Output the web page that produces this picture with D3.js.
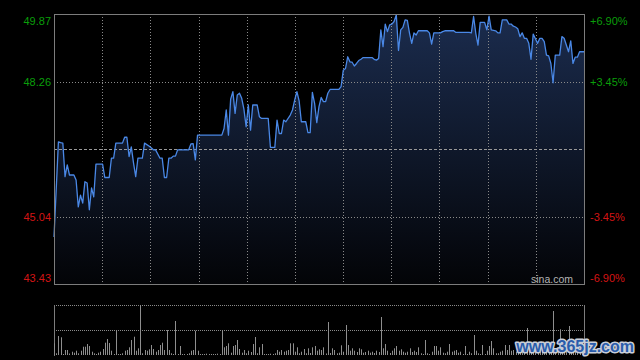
<!DOCTYPE html>
<html>
<head>
<meta charset="utf-8">
<script src="https://cdn.jsdelivr.net/npm/d3@7/dist/d3.min.js"></script>
<style>
  html, body { margin: 0; padding: 0; background: #000; }
  svg { display: block; }
  text { font-family: "Liberation Sans", Arial, sans-serif; }
</style>
</head>
<body>
<svg id="chart" width="640" height="360"></svg>
<script>
// ---- data ----
const prevClose = 46.65;
const priceTicks = [49.87, 48.26, 45.04, 43.43];
const pctTicks = ["+6.90%", "+3.45%", "-3.45%", "-6.90%"];
const totalMinutes = 240;

const minuteIdx = [0,2,3,4,5,6,7,9,10,11,12,13,14,15,16,17,18,19,22,23,25,26,27,28,31,32,33,34,35,36,37,38,40,41,43,44,45,46,48,49,50,51,52,53,54,55,56,61,62,63,64,65,76,77,78,79,80,81,82,83,84,85,86,87,88,89,90,92,93,94,97,98,100,101,102,103,104,105,107,108,109,110,111,112,114,115,116,117,118,119,120,121,122,123,124,125,127,129,130,131,132,133,134,135,136,137,138,139,140,144,145,146,147,148,149,150,151,152,153,154,155,156,157,158,159,160,161,162,163,164,165,169,170,171,172,175,176,177,181,182,188,189,190,191,192,193,195,196,197,198,200,201,202,203,205,206,207,208,209,210,211,212,213,214,215,216,217,218,219,220,221,222,223,224,225,226,227,229,230,231,232,233,234,235,236,237,238,240];
const price = [44.55,46.82,46.80,46.79,45.99,46.27,46.03,46.03,45.91,45.27,45.55,45.36,45.87,45.84,45.20,45.72,45.51,46.29,46.29,45.97,45.97,46.43,46.43,46.79,46.79,46.93,46.93,46.47,46.70,46.32,45.99,46.43,46.43,46.79,46.72,46.68,46.63,46.63,46.43,46.43,45.97,45.97,46.43,46.43,46.48,46.48,46.63,46.63,46.77,46.78,46.39,46.98,46.98,47.14,47.58,46.98,47.84,48.02,47.50,47.94,47.98,47.86,47.60,47.18,47.70,47.10,47.70,47.70,47.42,47.38,47.38,46.69,46.69,47.34,47.02,47.02,47.34,47.30,47.46,47.58,47.82,48.02,47.80,47.30,47.30,47.04,47.04,48.00,47.74,47.28,47.66,47.88,47.78,47.78,47.98,48.07,48.07,48.07,48.14,48.53,48.57,48.85,48.73,48.72,48.63,48.69,48.76,48.79,48.83,48.83,48.79,48.77,48.81,49.49,49.09,49.63,49.45,49.61,49.63,49.69,49.85,49.00,49.49,49.55,49.73,49.72,49.41,49.17,49.42,49.37,49.47,49.47,49.42,49.15,49.42,49.42,49.45,49.47,49.47,49.43,49.43,49.42,49.81,49.41,49.13,49.67,49.67,49.49,49.82,49.49,49.47,49.42,49.42,49.73,49.73,49.63,49.63,49.58,49.56,49.52,49.33,49.42,49.29,49.29,49.17,48.79,49.39,49.28,49.17,49.29,49.29,49.21,48.89,48.87,48.69,48.23,48.89,48.89,49.33,49.29,49.13,48.97,49.23,48.69,48.84,48.84,48.97,48.97];

const volume = [
  1170,170,1900,1770,100,500,500,150,330,230,
  430,170,430,830,830,1100,900,330,170,100,
  230,330,600,1230,1600,1200,430,100,2500,100,
  80,170,430,500,770,1500,1830,430,670,5000,
  170,500,430,570,1000,600,330,500,1000,1230,
  500,2500,500,170,100,3400,100,900,100,80,
  100,170,430,500,2430,430,100,80,100,130,
  80,100,80,100,130,100,2500,770,900,1170,
  230,900,1000,1500,600,230,500,170,430,300,
  1100,1800,170,770,1100,100,80,100,130,100,
  170,500,330,500,330,430,500,1170,1170,330,
  770,170,330,600,170,670,200,770,900,430,
  570,500,770,150,3300,200,670,500,170,230,
  970,330,3000,1000,430,670,430,300,670,570,
  230,300,430,230,330,200,430,300,3800,670,
  1100,430,200,430,670,900,430,570,330,230,
  330,670,300,430,300,770,170,100,1500,170,
  100,330,900,900,430,770,230,170,330,1100,
  330,430,500,230,330,100,900,100,330,170,
  2000,430,170,100,1000,100,430,900,1400,670,
  170,170,330,430,1000,500,1000,430,500,330,
  600,430,770,600,2700,500,900,430,670,330,
  1000,500,770,430,1100,600,4400,500,770,2570,
  500,1000,600,2900,670,1000,430,770,500,1200,600
];
const volumeMax = 5000;
const timeDivisions = 11;

// ---- layout ----
const L = 54, R = 584, T = 14, B = 284;
const VT = 305, VB = 355;
const svg = d3.select("#chart");
svg.append("rect").attr("width", 640).attr("height", 360).attr("fill", "#000");

const x = d3.scaleLinear().domain([0, totalMinutes]).range([L, R]);
const y = d3.scaleLinear().domain([priceTicks[3], priceTicks[0]]).range([B, T]);
const yv = d3.scaleLinear().domain([0, volumeMax]).range([VB, VT]);

const pts = minuteIdx.map((m, i) => ({ m, p: price[i] }));

// gradient
const defs = svg.append("defs");
const grad = defs.append("linearGradient").attr("id", "fillGrad")
  .attr("gradientUnits", "userSpaceOnUse").attr("x1", 0).attr("y1", T).attr("x2", 0).attr("y2", B);
grad.append("stop").attr("offset", "0%").attr("stop-color", "#1b2c4e");
grad.append("stop").attr("offset", "100%").attr("stop-color", "#030407");

// area
svg.append("path").datum(pts)
  .attr("d", d3.area().x(d => x(d.m)).y0(B).y1(d => y(d.p)))
  .attr("fill", "url(#fillGrad)");

// grid: vertical dotted
const vLines = d3.range(1, timeDivisions).map(k => totalMinutes * k / timeDivisions);
svg.append("g").selectAll("line").data(vLines).join("line")
  .attr("x1", d => Math.round(x(d)) + 0.5).attr("x2", d => Math.round(x(d)) + 0.5)
  .attr("y1", T).attr("y2", B)
  .attr("stroke", "#8a8a8a").attr("stroke-width", 1).attr("stroke-dasharray", "1,2");

// grid: horizontal dotted (inner ticks)
svg.append("g").selectAll("line").data([priceTicks[1], priceTicks[2]]).join("line")
  .attr("x1", L).attr("x2", R)
  .attr("y1", d => Math.round(y(d)) + 0.5).attr("y2", d => Math.round(y(d)) + 0.5)
  .attr("stroke", "#8a8a8a").attr("stroke-width", 1).attr("stroke-dasharray", "1,2");

// prev close line
svg.append("line")
  .attr("x1", L).attr("x2", R)
  .attr("y1", Math.round(y(prevClose)) + 0.5).attr("y2", Math.round(y(prevClose)) + 0.5)
  .attr("stroke", "#9a9a9a").attr("stroke-width", 1).attr("stroke-dasharray", "3,2");

// price line
svg.append("path").datum(pts)
  .attr("d", d3.line().x(d => x(d.m)).y(d => y(d.p)))
  .attr("fill", "none").attr("stroke", "#4a88e6").attr("stroke-width", 1.3)
  .attr("stroke-linejoin", "round");

// frame
svg.append("rect").attr("x", L + 0.5).attr("y", T + 0.5).attr("width", R - L).attr("height", B - T)
  .attr("fill", "none").attr("stroke", "#7c7c7c").attr("stroke-width", 1);

// left labels
const upCol = "#0a9e0a", dnCol = "#d41414";
function labelY(v, i) {
  const py = y(v);
  if (i === 0) return py + 11;
  if (i === priceTicks.length - 1) return py - 2;
  return py + 4.5;
}
svg.append("g").selectAll("text").data(priceTicks).join("text")
  .attr("x", 51).attr("y", (d, i) => labelY(d, i))
  .attr("text-anchor", "end").attr("font-size", 11)
  .attr("fill", d => d > prevClose ? upCol : dnCol)
  .text(d => d.toFixed(2));

svg.append("g").selectAll("text").data(pctTicks).join("text")
  .attr("x", 590).attr("y", (d, i) => labelY(priceTicks[i], i))
  .attr("text-anchor", "start").attr("font-size", 11)
  .attr("fill", (d, i) => priceTicks[i] > prevClose ? upCol : dnCol)
  .text(d => d);

// sina.com
svg.append("text").attr("x", 573).attr("y", 282.5).attr("text-anchor", "end")
  .attr("font-size", 10.5).attr("fill", "#b4b4b4").text("sina.com");

// volume panel
svg.append("g").selectAll("line").data([VT, (VT + VB) / 2]).join("line")
  .attr("x1", L).attr("x2", R + 1)
  .attr("y1", d => d + 0.5).attr("y2", d => d + 0.5)
  .attr("stroke", "#8a8a8a").attr("stroke-width", 1).attr("stroke-dasharray", "1,1");
svg.append("g").selectAll("line").data([L, R]).join("line")
  .attr("x1", d => d + 0.5).attr("x2", d => d + 0.5)
  .attr("y1", VT).attr("y2", VB + 1)
  .attr("stroke", "#7c7c7c").attr("stroke-width", 1);

svg.append("g").selectAll("rect").data(volume).join("rect")
  .attr("x", (d, i) => Math.round(x(i)))
  .attr("width", 1)
  .attr("y", d => Math.min(yv(d), VB - 1))
  .attr("height", d => Math.max(VB - yv(d), 1))
  .attr("fill", "#8e8e8e");

// watermark
svg.append("text").attr("x", 634).attr("y", 352).attr("text-anchor", "end")
  .attr("font-family", "'Liberation Serif', 'DejaVu Serif', serif")
  .attr("font-weight", "bold").attr("font-size", 16)
  .attr("fill", "#2a5cab").attr("stroke", "#c9ced8").attr("stroke-width", 3)
  .attr("paint-order", "stroke").attr("stroke-linejoin", "round")
  .text("www.365jz.com");
</script>
</body>
</html>
